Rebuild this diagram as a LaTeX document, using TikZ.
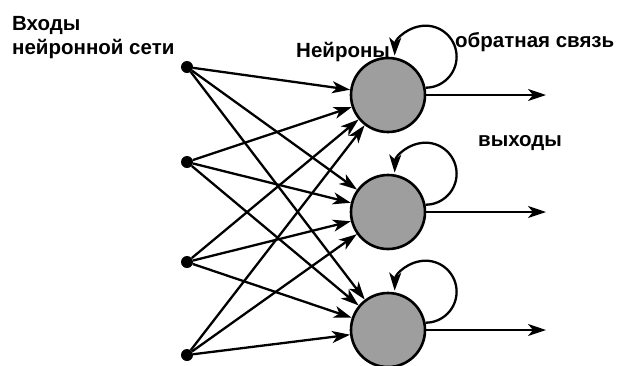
\documentclass[tikz,border=0pt]{standalone}
\usepackage{fontspec}
\setmainfont{Liberation Sans}
\usetikzlibrary{arrows.meta}
\definecolor{neurongray}{RGB}{158,158,158}
\tikzset{
  x=1pt, y=1pt,
  lbl/.style={anchor=base west, inner sep=0pt, font=\fontsize{20.5}{24}\selectfont\bfseries},
  inp/.style={circle, fill=black, inner sep=0pt, minimum size=12pt},
  neuron/.style={circle, draw=black, line width=2.6pt, fill=neurongray, minimum size=74pt, inner sep=0pt},
  conn/.style={line width=2.3pt, -{Stealth[length=18pt,width=12pt,inset=5pt]}},
}
\begin{document}
\begin{tikzpicture}
\useasboundingbox (0,0) rectangle (617,-365);
\node[inp] (i1) at (187,-67) {};
\node[inp] (i2) at (187,-162) {};
\node[inp] (i3) at (187,-262) {};
\node[inp] (i4) at (187,-355) {};
\node[neuron] (n1) at (388,-95) {};
\node[neuron] (n2) at (388,-212) {};
\node[neuron] (n3) at (388,-330) {};
\coordinate (o1) at (546,-95);
\coordinate (o2) at (546,-212);
\coordinate (o3) at (546,-330);
\foreach \i in {1,2,3,4}{
  \foreach \n in {1,2,3}{
    \draw[conn] (i\i) -- (n\n);
  }
}
\foreach \n in {1,2,3}{
  \draw[conn] (n\n.east) -- (o\n);
  \draw[conn] (n\n.11) arc[start angle=-90, end angle=178, radius=31];
}
\node[lbl] (t1) at (12,-30) {Входы};
\node[lbl] (t2) at (12,-54) {нейронной сети};
\node[lbl] (t3) at (296,-57) {Нейроны};
\node[lbl] (t4) at (455,-47) {обратная связь};
\node[lbl] (t5) at (478,-146) {выходы};
\end{tikzpicture}
\end{document}
